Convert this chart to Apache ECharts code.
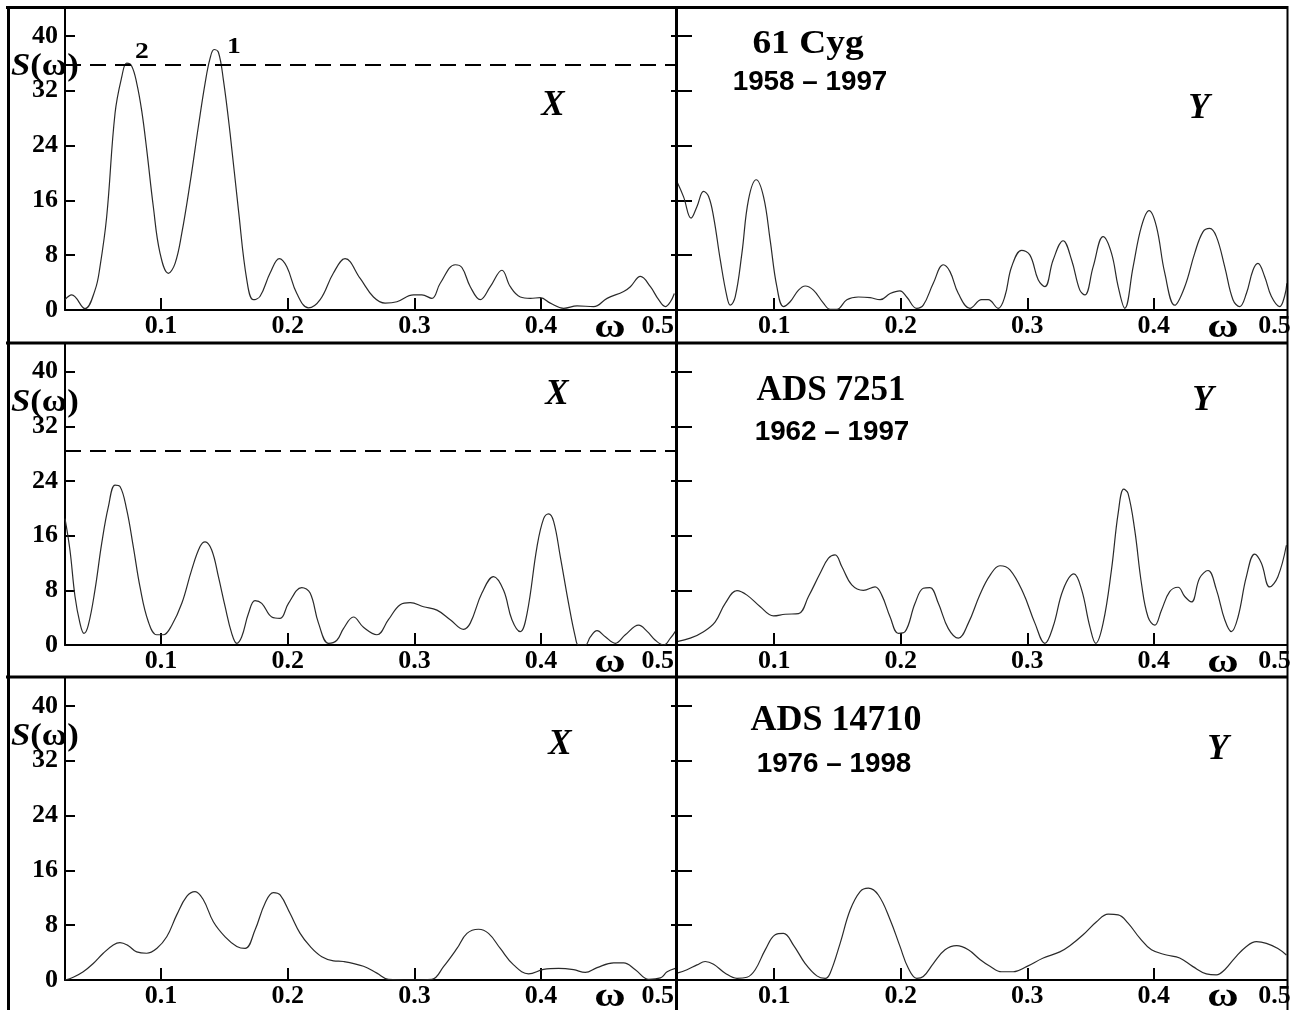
<!DOCTYPE html>
<html><head><meta charset="utf-8">
<script src="https://cdn.jsdelivr.net/npm/echarts@6/dist/echarts.min.js"></script>
<style>html,body{margin:0;padding:0;background:#fff}#c{width:1299px;height:1010px}</style>
</head><body><div id="c"></div>
<script>
// ---------- data ----------
const xTickValues = [0.1, 0.2, 0.3, 0.4];
const xLabelValues = [0.1, 0.2, 0.3, 0.4, 0.5];
const xTickLabels = ['0.1', '0.2', '0.3', '0.4', '0.5'];
const yTickValues = [0, 8, 16, 24, 32, 40];
const yTickLabels = ['0', '8', '16', '24', '32', '40'];
const thresholdLevels = [35.8, 28.4];
const starNames = ['61 Cyg', 'ADS 7251', 'ADS 14710'];
const starYears = ['1958 – 1997', '1962 – 1997', '1976 – 1998'];
const componentNames = ['X', 'Y'];
const peakLabels = ['1', '2'];

// 61 Cyg, X
const p1Omega = [0.0242,0.0295,0.040,0.0479,0.0518,0.0571,0.0637,0.0690,0.0729,0.0768,0.0808,0.0848,0.0887,0.0939,0.0992,0.1058,0.1111,0.1164,0.1229,0.1295,0.1348,0.1387,0.1419,0.1453,0.1492,0.1545,0.1611,0.1677,0.1729,0.1782,0.1861,0.1934,0.1993,0.2072,0.2164,0.2256,0.2361,0.2453,0.2572,0.2677,0.2769,0.2862,0.2993,0.3059,0.3138,0.3204,0.3322,0.3375,0.3441,0.3520,0.3599,0.3691,0.3757,0.3836,0.3915,0.3994,0.4073,0.4178,0.4284,0.4415,0.4521,0.4652,0.4705,0.4784,0.4863,0.4928,0.4981,0.5021,0.5052];
const p1S = [1.5,2.2,0.2,2.9,6.3,13.6,28.7,34.0,36.0,35.6,33.1,29.0,23.4,15.1,8.3,5.35,6.8,11.2,18.5,26.8,33.1,36.7,38.0,37.6,33.6,25.8,14.6,4.4,1.5,2.0,5.4,7.5,6.3,2.4,0.3,1.5,5.4,7.5,4.6,1.9,1.0,1.2,2.2,2.2,1.7,3.9,6.6,6.2,3.4,1.5,3.4,5.8,3.4,1.9,1.7,1.8,1.0,0.25,0.6,0.5,1.7,2.7,3.4,4.9,3.4,1.5,0.5,1.2,2.4];

// 61 Cyg, Y
const p2Omega = [0.0232,0.0284,0.0343,0.0390,0.0442,0.0481,0.0521,0.0574,0.0627,0.0653,0.0692,0.0745,0.0797,0.0858,0.0916,0.0968,0.1021,0.1073,0.1126,0.1192,0.1245,0.1310,0.1389,0.1442,0.1495,0.1574,0.1665,0.1758,0.1837,0.1916,0.1994,0.2047,0.2126,0.2178,0.2257,0.2336,0.2389,0.2455,0.2547,0.2639,0.2691,0.2770,0.2823,0.2876,0.2955,0.3021,0.3086,0.3139,0.3204,0.3283,0.3350,0.3415,0.3455,0.3520,0.3599,0.3665,0.3718,0.3770,0.3836,0.3902,0.3962,0.4020,0.4086,0.4165,0.4244,0.4323,0.4388,0.4441,0.4494,0.4560,0.4625,0.4678,0.4731,0.4783,0.4822,0.4875,0.4928,0.4994,0.5033,0.5051];
const p2S = [18.7,16.5,13.4,15.1,17.3,16.6,13.6,7.3,1.9,0.7,1.9,8.3,16.1,19.0,16.5,10.2,3.4,0.5,1.2,2.9,3.5,2.9,1.0,0.1,0.1,1.5,1.9,1.8,1.5,2.4,2.8,1.9,0.25,0.7,3.9,6.6,5.6,2.4,0.25,1.5,1.5,0.25,2.0,6.3,8.7,8.0,4.4,3.4,7.3,10.1,7.3,2.9,2.2,6.3,10.7,8.3,3.4,0.25,6.3,12.2,14.5,12.2,5.4,0.7,3.4,8.3,11.4,11.9,10.7,6.3,1.5,0.5,2.4,5.8,6.8,4.9,2.0,0.5,2.0,3.9];

// ADS 7251, X
const p3Omega = [0.0242,0.0281,0.0321,0.0360,0.0392,0.0426,0.0479,0.0532,0.0584,0.0637,0.0676,0.0729,0.0781,0.0834,0.0900,0.0966,0.1018,0.1085,0.1164,0.1242,0.1308,0.1348,0.1400,0.1453,0.1506,0.1558,0.1598,0.1637,0.1690,0.1742,0.1795,0.1874,0.1940,0.2006,0.2111,0.2177,0.2243,0.2322,0.2388,0.2440,0.2519,0.2598,0.2704,0.2795,0.2888,0.2967,0.3072,0.3178,0.3283,0.3388,0.3441,0.3533,0.3625,0.3704,0.3770,0.3836,0.3889,0.3968,0.4020,0.4059,0.4099,0.4152,0.4217,0.4270,0.4296,0.4349,0.4389,0.4442,0.4507,0.4586,0.4665,0.4770,0.4837,0.4902,0.4968,0.5021,0.5060];
const p3S = [18.5,13.9,7.1,3.2,1.7,2.9,8.1,14.9,20.2,23.4,23.2,19.8,14.4,8.5,3.4,1.5,1.5,2.9,6.1,11.0,14.4,15.1,13.9,10.0,5.6,1.7,0.25,1.2,4.6,6.5,6.1,4.1,3.9,6.1,8.4,7.6,3.2,0.25,0.7,2.4,4.1,2.6,1.5,3.7,5.9,6.2,5.6,5.1,3.7,2.3,3.2,7.6,10.0,8.0,3.7,1.95,4.6,14.4,18.5,19.2,18.1,12.9,6.1,1.2,0,0,1.2,2.1,1.2,0.25,1.5,2.9,2.0,0.7,0,1.0,2.0];

// ADS 7251, Y
const p4Omega = [0.0232,0.0337,0.0442,0.0534,0.0613,0.0706,0.0785,0.0890,0.0994,0.1087,0.1192,0.1271,0.1363,0.1429,0.1481,0.1534,0.1613,0.1705,0.1797,0.1850,0.1916,0.1981,0.2034,0.2113,0.2178,0.2231,0.2297,0.2376,0.2455,0.2534,0.2626,0.2705,0.2784,0.2863,0.2968,0.3060,0.3139,0.3204,0.3283,0.3368,0.3429,0.3494,0.3541,0.3599,0.3665,0.3718,0.3762,0.3796,0.3849,0.3902,0.3954,0.4007,0.4060,0.4125,0.4191,0.4244,0.4297,0.4362,0.4428,0.4494,0.4560,0.4612,0.4665,0.4731,0.4796,0.4849,0.4915,0.4980,0.5047];
const p4S = [0.5,1.0,1.95,3.4,6.1,7.95,7.3,5.6,4.25,4.5,4.6,7.1,10.5,12.7,13.2,11.5,8.8,8.0,8.5,7.3,4.1,1.7,1.95,6.1,8.3,8.4,6.1,2.4,1.0,3.2,7.4,10.2,11.6,11.0,7.6,3.2,0.25,2.7,8.1,10.4,8.1,2.7,0.25,3.2,11.0,19.3,22.8,22.2,16.8,9.0,4.1,2.9,5.1,7.8,8.45,7.1,6.3,9.8,10.9,8.1,3.7,1.95,4.1,10.0,13.3,12.0,8.5,10.0,14.6];

// ADS 14710, X
const p5Omega = [0.0242,0.0307,0.0386,0.0465,0.0544,0.0623,0.0676,0.0742,0.0808,0.0887,0.0966,0.1045,0.1124,0.1203,0.1269,0.1334,0.1413,0.1506,0.1598,0.1664,0.1742,0.1821,0.1887,0.1940,0.2019,0.2098,0.2177,0.2269,0.2361,0.2440,0.2598,0.2704,0.2795,0.2967,0.3138,0.3230,0.3336,0.3415,0.3506,0.3585,0.3678,0.3783,0.3901,0.4020,0.4138,0.4257,0.4349,0.4442,0.4573,0.4652,0.4744,0.4849,0.4942,0.4995,0.5060];
const p5S = [0,0.4,1.2,2.4,3.9,5.1,5.45,5.0,4.1,3.9,4.6,6.3,9.5,12.2,12.9,11.7,8.5,6.3,4.9,4.6,7.3,11.2,12.75,12.4,9.7,6.8,4.9,3.4,2.8,2.7,2.0,1.0,0.1,0,0.1,1.95,4.6,6.8,7.4,6.8,4.6,2.2,0.9,1.55,1.7,1.5,1.1,1.8,2.5,2.5,1.5,0.1,0.3,1.2,1.7];

// ADS 14710, Y
const p6Omega = [0.0232,0.0311,0.0390,0.0455,0.0521,0.0613,0.0706,0.0785,0.0850,0.0929,0.1008,0.1073,0.1152,0.1245,0.1337,0.1403,0.1442,0.1521,0.1600,0.1679,0.1744,0.1823,0.1916,0.1994,0.2060,0.2126,0.2178,0.2257,0.2350,0.2442,0.2534,0.2626,0.2705,0.2797,0.2889,0.2994,0.3126,0.3257,0.3336,0.3441,0.3547,0.3639,0.3718,0.3796,0.3889,0.3981,0.4100,0.4204,0.4309,0.4415,0.4494,0.4560,0.4639,0.4731,0.4810,0.4889,0.4980,0.5047];
const p6S = [1.0,1.5,2.2,2.7,2.3,1.0,0.25,0.4,1.5,4.4,6.6,6.8,5.1,2.4,0.6,0.25,1.0,5.35,10.2,12.9,13.4,12.4,8.8,4.9,1.7,0.25,0.5,2.4,4.4,5.0,4.4,3.0,2.0,1.2,1.2,1.95,3.2,4.1,5.0,6.6,8.5,9.6,9.5,8.3,6.1,4.4,3.65,3.2,1.95,0.9,0.75,1.5,3.2,4.9,5.6,5.35,4.6,3.65];

// ---------- layout ----------
const SERIF = '"Liberation Serif","Times New Roman",serif';
const SANS = '"Liberation Sans",Arial,sans-serif';
const rowTop = [7, 343, 677];
const rowH = [303, 302, 303];
const colLeft = [65, 677];
const colW = [611, 610];
const xExtent = [[0.0242, 0.5065], [0.0232, 0.5052]];
const Y_MAX = 44.2;

const panels = [
  {o: p1Omega, s: p1S, row: 0, col: 0, thr: thresholdLevels[0]},
  {o: p2Omega, s: p2S, row: 0, col: 1},
  {o: p3Omega, s: p3S, row: 1, col: 0, thr: thresholdLevels[1]},
  {o: p4Omega, s: p4S, row: 1, col: 1},
  {o: p5Omega, s: p5S, row: 2, col: 0},
  {o: p6Omega, s: p6S, row: 2, col: 1}
];

const LBL = 26;
const grid = [], xAxis = [], yAxis = [], series = [];
panels.forEach((p, i) => {
  grid.push({left: colLeft[p.col], top: rowTop[p.row], width: colW[p.col], height: rowH[p.row], containLabel: false});
  xAxis.push({
    type: 'value', gridIndex: i, min: xExtent[p.col][0], max: xExtent[p.col][1],
    axisLine: {show: true, onZero: false, lineStyle: {color: '#000', width: 2}},
    axisTick: {show: true, inside: true, length: 12, customValues: xTickValues, lineStyle: {color: '#000', width: 2}},
    axisLabel: {
      show: true, customValues: xLabelValues, margin: 3, color: '#000',
      fontFamily: SERIF, fontWeight: 'bold', fontSize: LBL,
      formatter: (v, idx) => {
        const k = xLabelValues.findIndex(t => Math.abs(t - v) < 1e-9);
        const t = xTickLabels[k >= 0 ? k : idx];
        return k === xLabelValues.length - 1 ? '{e|' + t + '}' : '{n|' + t + '}';
      },
      rich: {
        n: {fontFamily: SERIF, fontWeight: 'bold', fontSize: LBL, color: '#000'},
        e: {fontFamily: SERIF, fontWeight: 'bold', fontSize: LBL, color: '#000', padding: [0, p.col === 0 ? 20 : 12, 0, 0]}
      }
    },
    splitLine: {show: false}
  });
  yAxis.push({
    type: 'value', gridIndex: i, min: 0, max: Y_MAX,
    axisLine: {show: true, onZero: false, lineStyle: {color: '#000', width: 2}},
    axisTick: {show: true, inside: true, length: p.col === 0 ? 10 : 15, customValues: yTickValues, lineStyle: {color: '#000', width: 2}},
    axisLabel: {
      show: p.col === 0, customValues: yTickValues, margin: 7, color: '#000',
      fontFamily: SERIF, fontWeight: 'bold', fontSize: LBL,
      formatter: (v) => { const k = yTickValues.indexOf(Math.round(v)); return k >= 0 ? yTickLabels[k] : ''; }
    },
    splitLine: {show: false}
  });
  const s = {
    type: 'line', xAxisIndex: i, yAxisIndex: i,
    data: p.o.map((w, j) => [w, p.s[j]]),
    showSymbol: false, symbol: 'none', smooth: 0.4,
    lineStyle: {color: '#2a2a2a', width: 1.2}, clip: true, silent: true
  };
  if (p.thr !== undefined) {
    s.markLine = {
      silent: true, symbol: ['none', 'none'], label: {show: false},
      lineStyle: {color: '#000', width: 2, type: [16, 9]},
      data: [{yAxis: p.thr}]
    };
  }
  series.push(s);
});
// small ticks on the right edge of the left panels
panels.forEach((p, i) => {
  if (p.col !== 0) return;
  yAxis.push({
    type: 'value', gridIndex: i, min: 0, max: Y_MAX, position: 'right',
    axisLine: {show: false}, axisLabel: {show: false}, splitLine: {show: false},
    axisTick: {show: true, inside: true, length: 5, customValues: yTickValues, lineStyle: {color: '#000', width: 2}}
  });
});

// ---------- texts & frame ----------
const graphic = [];
function txt(x, y, text, o) {
  const st = Object.assign({text, fill: '#000', align: 'center', verticalAlign: 'middle', textAlign: 'center', textVerticalAlign: 'middle'}, o.style || {});
  const el = {type: 'text', x, y, z: 100, silent: true, style: st};
  if (o.scaleX) el.scaleX = o.scaleX;
  graphic.push(el);
}
function line(x1, y1, x2, y2, w) {
  graphic.push({type: 'line', z: 120, silent: true, shape: {x1, y1, x2, y2}, style: {stroke: '#000', lineWidth: w}});
}
// frame
line(6, 7.5, 1288, 7.5, 3);
line(8.5, 6, 8.5, 1010, 3);
line(6, 343, 1288, 343, 3);
line(6, 677, 1288, 677, 3);
line(676.5, 6, 676.5, 1010, 3);
line(1287.5, 6, 1287.5, 1010, 2);

const sRows = [67, 403, 737];
sRows.forEach(y => {
  graphic.push({type: 'text', x: 11, y, z: 100, silent: true, scaleX: 1.12,
    style: {text: '{a|S}{b|(ω)}', align: 'left', verticalAlign: 'middle', textAlign: 'left', textVerticalAlign: 'middle', fill: '#000',
      rich: {a: {fontFamily: SERIF, fontWeight: 'bold', fontStyle: 'italic', fontSize: 31, fill: '#000', color: '#000'},
             b: {fontFamily: SERIF, fontWeight: 'bold', fontSize: 31, fill: '#000', color: '#000'}}}});
});
const serifB = (fs) => ({fontFamily: SERIF, fontWeight: 'bold', fontSize: fs});
txt(234, 47, peakLabels[0], {style: serifB(23), scaleX: 1.2});
txt(142, 52, peakLabels[1], {style: serifB(23), scaleX: 1.2});

const xPos = [[553, 106], [557, 395], [560, 745]];
const yPos = [[1199, 109], [1203, 401], [1218, 750]];
const italB = {fontFamily: SERIF, fontWeight: 'bold', fontStyle: 'italic', fontSize: 35};
xPos.forEach(p => txt(p[0], p[1], componentNames[0], {style: italB}));
yPos.forEach(p => txt(p[0], p[1], componentNames[1], {style: italB}));

const namePos = [[808, 44], [831, 391], [836, 721]];
const nameSize = [34, 35, 36];
const nameScale = [1.1, 1.0, 1.0];
namePos.forEach((p, k) => txt(p[0], p[1], starNames[k], {style: serifB(nameSize[k]), scaleX: nameScale[k]}));
const yearPos = [[810, 83], [832, 433], [834, 765]];
yearPos.forEach((p, k) => txt(p[0], p[1], starYears[k], {style: {fontFamily: SANS, fontWeight: 'bold', fontSize: 27}, scaleX: 1.03}));

const omegaY = [328, 663, 997];
omegaY.forEach(y => {
  txt(610, y, 'ω', {style: serifB(33), scaleX: 1.3});
  txt(1223, y, 'ω', {style: serifB(33), scaleX: 1.3});
});

const chart = echarts.init(document.getElementById('c'), null, {renderer: 'canvas'});
chart.setOption({
  backgroundColor: '#fff', animation: false,
  grid, xAxis, yAxis, series, graphic
});
</script></body></html>
